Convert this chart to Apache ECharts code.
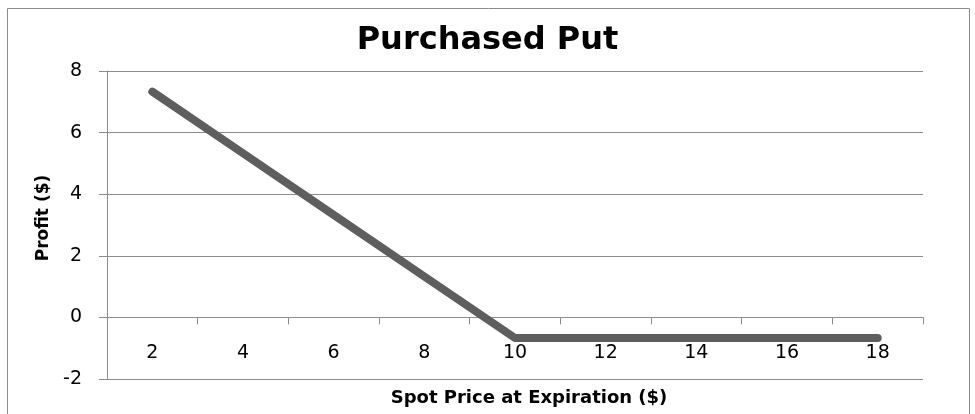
<!DOCTYPE html>
<html>
<head>
<meta charset="utf-8">
<script src="https://cdn.jsdelivr.net/npm/echarts@6/dist/echarts.min.js"></script>
<style>
  html, body { margin: 0; padding: 0; background: #fff; }
  #myChart { width: 975px; height: 414px; }
</style>
</head>
<body>
<div id="myChart"></div>
<script>
// spot price at expiration (category labels)
const spotPrices = ['2', '4', '6', '8', '10', '12', '14', '16', '18']
// profit of the purchased put
const profits = [7.33, 5.33, 3.33, 1.33, -0.67, -0.67, -0.67, -0.67, -0.67]
// y axis ticks
const yMin = -2
const yMax = 8
const yStep = 2

const gray = '#8c8c8c'
const font = 'DejaVu Sans'

const myChart = echarts.init(document.getElementById('myChart'))
const option = {
  animation: false,
  title: {
    text: 'Purchased Put',
    left: 'center',
    top: 20,
    textStyle: { fontFamily: font, fontSize: 32, fontWeight: 'bold', color: '#000' }
  },
  graphic: [{
    type: 'rect',
    shape: { x: 7.5, y: 8.5, width: 962, height: 420 },
    style: { fill: 'none', stroke: gray, lineWidth: 1 },
    silent: true
  }],
  grid: { left: 107, right: 52, top: 71, bottom: 35, outerBoundsMode: 'none', containLabel: false },
  xAxis: {
    type: 'category',
    data: spotPrices,
    boundaryGap: true,
    name: 'Spot Price at Expiration ($)',
    nameLocation: 'middle',
    nameGap: 10,
    nameTextStyle: { fontFamily: font, fontSize: 18, fontWeight: 'bold', color: '#000', padding: [0, 0, 0, 28] },
    axisLine: { onZero: true, lineStyle: { color: gray, width: 1 } },
    axisTick: { show: true, length: 7, lineStyle: { color: gray } },
    axisLabel: { margin: -35, fontFamily: font, fontSize: 19, color: '#000' }
  },
  yAxis: {
    type: 'value',
    min: yMin,
    max: yMax,
    interval: yStep,
    name: 'Profit ($)',
    nameLocation: 'middle',
    nameGap: 52,
    nameTextStyle: { fontFamily: font, fontSize: 17, fontWeight: 'bold', color: '#000', padding: [0, 0, 0, 14] },
    axisLine: { show: true, lineStyle: { color: gray, width: 1 } },
    axisTick: { show: true, length: 8, lineStyle: { color: gray } },
    axisLabel: { margin: 25, fontFamily: font, fontSize: 19, color: '#000' },
    splitLine: { show: true, lineStyle: { color: gray, width: 1 } }
  },
  series: [{
    type: 'line',
    data: profits,
    symbol: 'none',
    lineStyle: { color: '#5e5e5e', width: 8, cap: 'round', join: 'round' }
  }]
}
myChart.setOption(option)
</script>
</body>
</html>
